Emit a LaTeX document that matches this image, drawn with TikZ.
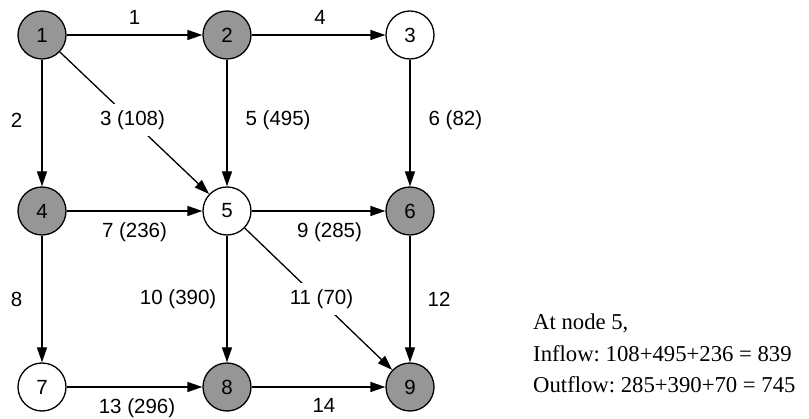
\documentclass[tikz,border=0pt]{standalone}
\usepackage{fontspec}
\setmainfont{Liberation Serif}
\newfontfamily\arialfont{Liberation Sans}
\usetikzlibrary{arrows.meta}

\definecolor{nodegray}{RGB}{150,150,150}

\tikzset{
  vtx/.style={circle, draw=black, line width=1.3pt, minimum size=48pt, inner sep=0pt,
              font=\arialfont\fontsize{20.5}{24}\selectfont},
  shaded/.style={vtx, fill=nodegray},
  plain/.style={vtx, fill=white},
  arr/.style={line width=1.3pt, -{Triangle[length=15pt,width=10pt]}},
  lab/.style={font=\arialfont\fontsize{20.5}{24}\selectfont, inner sep=0pt},
  cutlab/.style={lab, fill=white, inner sep=6pt},
  note/.style={font=\fontsize{22.7}{28}\selectfont\frenchspacing, inner sep=0pt, anchor=base west}
}

\begin{document}
\begin{tikzpicture}[x=1pt,y=-1pt]
  \useasboundingbox (0,0) rectangle (809,419);

  % grid of vertices
  \node[shaded] (n1) at (42,35)  {1};
  \node[shaded] (n2) at (227,35) {2};
  \node[plain]  (n3) at (410,35) {3};
  \node[shaded] (n4) at (42,211) {4};
  \node[plain]  (n5) at (227,211) {5};
  \node[shaded] (n6) at (410,211) {6};
  \node[plain]  (n7) at (42,387) {7};
  \node[shaded] (n8) at (227,387) {8};
  \node[shaded] (n9) at (410,387) {9};

  % horizontal arcs
  \draw[arr] (n1) -- node[lab, above=10pt] {1} (n2);
  \draw[arr] (n2) -- node[lab, above=10pt, xshift=1.5pt] {4} (n3);
  \draw[arr] (n4) -- node[lab, below=11pt] {7 (236)} (n5);
  \draw[arr] (n5) -- node[lab, below=11pt, xshift=11pt] {9 (285)} (n6);
  \draw[arr] (n7) -- node[lab, below=11pt, xshift=2.5pt] {13 (296)} (n8);
  \draw[arr] (n8) -- node[lab, below=11pt, xshift=5.5pt] {14} (n9);

  % vertical arcs
  \draw[arr] (n1) -- node[lab, left=19pt, yshift=3pt] {2} (n4);
  \draw[arr] (n2) -- node[lab, right=18pt, yshift=3pt] {5 (495)} (n5);
  \draw[arr] (n3) -- node[lab, right=18pt, yshift=3pt] {6 (82)} (n6);
  \draw[arr] (n4) -- node[lab, left=19pt] {8} (n7);
  \draw[arr] (n5) -- node[lab, left=10pt] {10 (390)} (n8);
  \draw[arr] (n6) -- node[lab, right=17pt] {12} (n9);

  % diagonal arcs
  \draw[arr] (n1) -- node[cutlab, xshift=-2pt, yshift=3pt] {3 (108)} (n5);
  \draw[arr] (n5) -- node[cutlab, xshift=3pt] {11 (70)} (n9);

  % flow balance at vertex 5
  \node[note] (t1) at (533,330) {At node 5,};
  \node[note] (t2) at (533,362) {Inflow: 108+495+236 = 839};
  \node[note] (t3) at (533,393) {Outflow: 285+390+70 = 745};
\end{tikzpicture}
\end{document}
